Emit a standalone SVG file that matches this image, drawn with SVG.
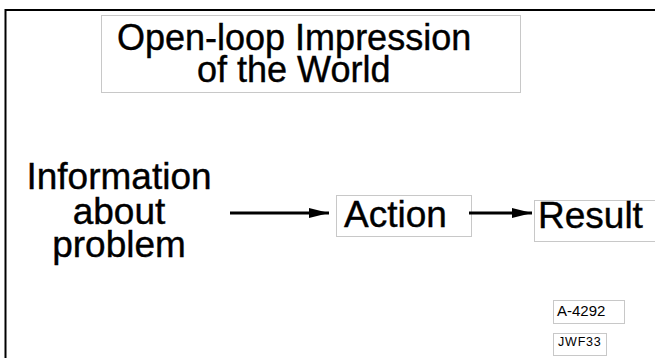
<svg xmlns="http://www.w3.org/2000/svg" width="655" height="358" viewBox="0 0 655 358">
<defs>
<style>
.box{fill:#fff;stroke:#c8c8c8;stroke-width:1}
.title{font-family:"Liberation Sans",Arial,sans-serif;font-size:36px;fill:#000;stroke:#000;stroke-width:0.4}
.big{font-family:"Liberation Sans",Arial,sans-serif;font-size:37px;fill:#000;stroke:#000;stroke-width:0.4}
.tag{font-family:"Liberation Sans",Arial,sans-serif;fill:#000}
.conn{stroke:#000;stroke-width:3;fill:none}
</style>
<marker id="ah" markerWidth="20" markerHeight="12" refX="20" refY="6" orient="auto" markerUnits="userSpaceOnUse">
<path d="M0,1 L20,6 L0,11 Z" fill="#000"/>
</marker>
</defs>
<rect x="0" y="0" width="655" height="358" fill="#fff"/>
<path d="M5.5,358 V10 H655" fill="none" stroke="#000" stroke-width="2"/>
<g id="title">
<rect class="box" x="101.5" y="15.5" width="419" height="77"/>
<text class="title" x="117" y="50">Open-loop Impression</text>
<text class="title" x="197" y="82">of the World</text>
</g>
<g id="info">
<text class="big" x="119" y="189" text-anchor="middle">Information</text>
<text class="big" x="119" y="224" text-anchor="middle">about</text>
<text class="big" x="119" y="257" text-anchor="middle">problem</text>
</g>
<g id="action">
<rect class="box" x="336.5" y="195.5" width="135" height="41"/>
<text class="big" x="344" y="227" font-size="38">Action</text>
</g>
<g id="result">
<rect class="box" x="534.5" y="200.5" width="130" height="41"/>
<text class="big" x="538" y="228" font-size="35">Result</text>
</g>
<g id="connectors">
<line class="conn" x1="230" y1="213" x2="329" y2="213" marker-end="url(#ah)"/>
<line class="conn" x1="469" y1="213" x2="532" y2="213" marker-end="url(#ah)"/>
</g>
<g id="label-a4292">
<rect class="box" x="553.5" y="300.5" width="71" height="23"/>
<text class="tag" x="557" y="316" font-size="15">A-4292</text>
</g>
<g id="label-jwf33">
<rect class="box" x="553.5" y="333.5" width="53" height="22"/>
<text class="tag" x="558" y="346" font-size="12.5" letter-spacing="0.8">JWF33</text>
</g>
</svg>
